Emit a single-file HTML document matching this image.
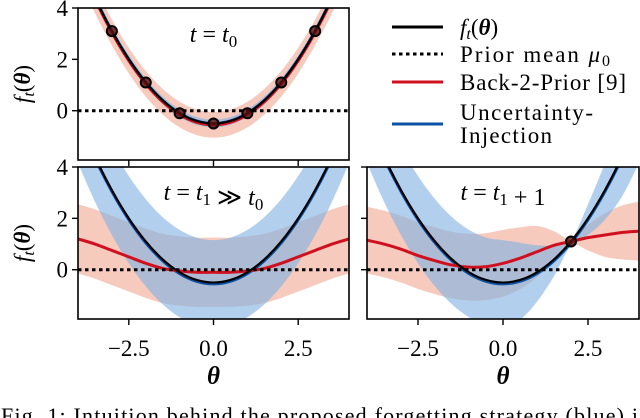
<!DOCTYPE html>
<html><head><meta charset="utf-8"><style>
html,body{margin:0;padding:0;background:#fff;overflow:hidden}
svg{display:block}
text{font-family:"Liberation Serif",serif;fill:#000}
</style></head><body>
<svg id="c" width="640" height="418" viewBox="0 0 640 418" xmlns="http://www.w3.org/2000/svg"></svg>
<script>
const thetaGrid=[-4,-3.5,-3,-2.5,-2,-1.5,-1,-0.5,0,0.5,1,1.5,2,2.5,3,3.5,4];
const trueF=[5.9,4.4,3.1,2.0,1.1,0.4,-0.1,-0.4,-0.5,-0.4,-0.1,0.4,1.1,2.0,3.1,4.4,5.9];
const yTicks=[0,2,4];
const xTicks=[-2.5,0,2.5];
const xTickLabels=["\u22122.5","0.0","2.5"];
// top panel
const topRedMean=[5.85,4.35,3.05,1.95,1.05,0.35,-0.15,-0.45,-0.55,-0.45,-0.15,0.35,1.05,1.95,3.05,4.35,5.85];
const topRedStd=[0.55,0.55,0.5,0.5,0.5,0.5,0.5,0.5,0.5,0.5,0.5,0.5,0.5,0.5,0.5,0.55,0.55];
const topBlueMean=[5.9,4.4,3.1,2.0,1.1,0.4,-0.1,-0.4,-0.5,-0.4,-0.1,0.4,1.1,2.0,3.1,4.4,5.9];
const topBlueStd=[0.2,0.18,0.15,0.15,0.15,0.15,0.15,0.15,0.15,0.15,0.15,0.15,0.15,0.15,0.15,0.18,0.2];
const topObsX=[-3,-2,-1,0,1,2,3];
const topObsY=[3.1,1.1,-0.1,-0.5,-0.1,1.1,3.1];
// bottom-left panel
const blRedMean=[1.2,1.0,0.75,0.5,0.25,0.05,-0.05,-0.1,-0.1,-0.1,-0.05,0.05,0.25,0.5,0.75,1.0,1.2];
const blRedStd=[1.35,1.35,1.35,1.35,1.35,1.35,1.35,1.35,1.35,1.35,1.35,1.35,1.35,1.35,1.35,1.35,1.35];
const blBlueMean=[5.85,4.35,3.05,1.95,1.05,0.35,-0.15,-0.45,-0.55,-0.45,-0.15,0.35,1.05,1.95,3.05,4.35,5.85];
const blBlueStd=[1.7,1.7,1.7,1.7,1.7,1.7,1.7,1.7,1.7,1.7,1.7,1.7,1.7,1.7,1.7,1.7,1.7];
// bottom-right panel
const brRedMean=[1.15,1.0,0.8,0.55,0.35,0.18,0.1,0.12,0.25,0.45,0.7,0.95,1.1,1.25,1.35,1.45,1.5];
const brRedStd=[1.3,1.3,1.3,1.3,1.3,1.3,1.3,1.3,1.3,1.2,1.0,0.55,0.1,0.5,0.85,1.05,1.15];
const brBlueMean=[5.85,4.35,3.05,1.95,1.05,0.35,-0.15,-0.45,-0.55,-0.45,-0.15,0.35,1.05,1.95,3.05,4.35,5.85];
const brBlueStd=[1.7,1.7,1.7,1.7,1.7,1.7,1.7,1.7,1.7,1.5,1.1,0.6,0.1,0.6,1.1,1.5,1.7];
const brObsX=[2];
const brObsY=[1.1];

const NS="http://www.w3.org/2000/svg";
const svg=document.getElementById('c');
function mk(tag,attrs,parent){const e=document.createElementNS(NS,tag);for(const k in attrs)e.setAttribute(k,attrs[k]);(parent||svg).appendChild(e);return e;}
const RED="#d0101f",BLUE="#0a52a5";
let clipId=0;
function panel(name,x0,x1,y0,y1,opts){
  const g=mk('g',{});
  
  
  const xMin=-4,xMax=4,yMin=-1.92,yMax=4;
  const sx=v=>x0+(v-xMin)/(xMax-xMin)*(x1-x0);
  const sy=v=>y1-(v-yMin)/(yMax-yMin)*(y1-y0);
  const cid='clip'+(clipId++);
  const cp=mk('clipPath',{id:cid},g);mk('rect',{x:x0,y:y0,width:x1-x0,height:y1-y0},cp);
  const pg=mk('g',{'clip-path':'url(#'+cid+')'},g);
  function smooth(pts){let d='M'+pts[0][0]+','+pts[0][1];
    for(let i=0;i<pts.length-1;i++){const p0=pts[i-1]||pts[i],p1=pts[i],p2=pts[i+1],p3=pts[i+2]||p2;
      const c1=[p1[0]+(p2[0]-p0[0])/6,p1[1]+(p2[1]-p0[1])/6],c2=[p2[0]-(p3[0]-p1[0])/6,p2[1]-(p3[1]-p1[1])/6];
      d+='C'+c1[0].toFixed(2)+','+c1[1].toFixed(2)+' '+c2[0].toFixed(2)+','+c2[1].toFixed(2)+' '+p2[0].toFixed(2)+','+p2[1].toFixed(2);}
    return d;}
  function band(mean,std,fill,op,nm){
    const up=thetaGrid.map((t,i)=>[sx(t),sy(mean[i]+std[i])]);
    const lo=thetaGrid.map((t,i)=>[sx(t),sy(mean[i]-std[i])]).reverse();
    let d=smooth(up)+'L'+lo[0][0]+','+lo[0][1]+smooth(lo).slice(1).replace(/^[^C]*/,'')+'Z';
    const p=mk('path',{d:d,fill:fill,'fill-opacity':op,stroke:'none'},pg);
    
    }
  function line(vals,col,w,nm){
    const p=mk('path',{d:smooth(thetaGrid.map((t,i)=>[sx(t),sy(vals[i])])),fill:'none',stroke:col,'stroke-width':w},pg);
    
    }
  band(opts.rm,opts.rs,'#ef9f86',0.55,'back2prior-band');
  band(opts.bm,opts.bs,'#7fb1e3',0.6,'uncertainty-band');
  line(opts.bm,BLUE,3,'uncertainty-mean-line');
  line(opts.rm,RED,3,'back2prior-mean-line');
  line(trueF,'#000',2.2,'true-function-line');
  const pr=mk('line',{x1:x0,x2:x1,y1:sy(0),y2:sy(0),stroke:'#000','stroke-width':3,'stroke-dasharray':'3.5 3.5'},pg);
  
  
  (opts.ox||[]).forEach((ox,i)=>{
    const c=mk('circle',{cx:sx(ox),cy:sy(opts.oy[i]),r:5,fill:'#5a1010','fill-opacity':0.8,stroke:'#000','stroke-width':2},pg);
    
    });
  const fr=mk('rect',{x:x0,y:y0,width:x1-x0,height:y1-y0,fill:'none',stroke:'#000','stroke-width':1.6},g);
  
  
  xTicks.forEach((t,i)=>{
    const tk=mk('line',{x1:sx(t),x2:sx(t),y1:y1,y2:y1+6,stroke:'#000','stroke-width':1.4},g);
    
    
    if(opts.xlabels){const tx=mk('text',{x:sx(t),y:y1+37,'font-size':23,'text-anchor':'middle'},g);tx.textContent=xTickLabels[i];
      
      }});
  yTicks.forEach(t=>{
    const yy=sy(t);if(yy<y0-1)return;
    const tk=mk('line',{x1:x0-6,x2:x0,y1:yy,y2:yy,stroke:'#000','stroke-width':1.4},g);
    
    
    if(opts.ylabels){const tx=mk('text',{x:x0-10,y:yy+8,'font-size':23,'text-anchor':'end'},g);tx.textContent=String(t);
      
      }});
  if(opts.ylabels){const yl=mk('text',{transform:'translate(30,'+((y0+y1)/2)+') rotate(-90)','font-size':23,'text-anchor':'middle','font-style':'italic'},g);
    yl.innerHTML='f<tspan font-size="16" dy="4">t</tspan><tspan dy="-4" font-style="normal">(</tspan><tspan font-weight="bold">θ</tspan><tspan font-style="normal">)</tspan>';
    
    }
  if(opts.xlabels){const xl=mk('text',{x:sx(0),y:y1+65,'font-size':25,'text-anchor':'middle','font-style':'italic','font-weight':'bold'},g);xl.textContent='θ';
    
    }
  const tt=mk('text',{x:sx(0),y:opts.ty,'font-size':24,'text-anchor':'middle'},g);
  tt.innerHTML=opts.title;
  
  
}
const I=s=>'<tspan font-style="italic">'+s+'</tspan>';
const S=s=>'<tspan font-size="17" dy="5">'+s+'</tspan><tspan dy="-5"></tspan>';
panel('top-panel',78,349,8,160,{rm:topRedMean,rs:topRedStd,bm:topBlueMean,bs:topBlueStd,ox:topObsX,oy:topObsY,ylabels:true,xlabels:false,ty:42,title:I('t')+' = '+I('t')+S('0')});
panel('bottom-left-panel',78,349,167,319,{rm:blRedMean,rs:blRedStd,bm:blBlueMean,bs:blBlueStd,ylabels:true,xlabels:true,ty:200,title:I('t')+' = '+I('t')+S('1')+' ≫ '+I('t')+S('0')});
panel('bottom-right-panel',367,639,167,319,{rm:brRedMean,rs:brRedStd,bm:brBlueMean,bs:brBlueStd,ox:brObsX,oy:brObsY,ylabels:false,xlabels:true,ty:200,title:I('t')+' = '+I('t')+S('1')+' + 1'});
// legend
const lg=mk('g',{});


const legY=[27,54,82,124];
const legHtml=['<tspan font-style="italic">f</tspan><tspan font-size="16" dy="4" font-style="italic">t</tspan><tspan dy="-4">(</tspan><tspan font-weight="bold" font-style="italic">θ</tspan>)','Prior mean <tspan font-style="italic">μ</tspan><tspan font-size="16" dy="4">0</tspan>','Back-2-Prior [9]',null];
const legW=[null,150,166,null];
const legStyle=[['#000',''],['#000','3.5 3.5'],[RED,''],[BLUE,'']];
legY.forEach((y,i)=>{
  const l=mk('line',{x1:392,x2:443,y1:y,y2:y,stroke:legStyle[i][0],'stroke-width':3,'stroke-dasharray':legStyle[i][1]},lg);
  
  
  if(legHtml[i]){const t=mk('text',{x:460,y:y+8,'font-size':23},lg);t.innerHTML=legHtml[i];
    if(legW[i]){t.setAttribute('textLength',legW[i]);}
    
    }
});
const ul=mk('text',{x:460,y:120,'font-size':23},lg);ul.innerHTML='<tspan textLength="133">Uncertainty-</tspan><tspan x="460" dy="23" textLength="92">Injection</tspan>';


const cap=mk('text',{x:1,y:423,'font-size':22,textLength:637,lengthAdjust:'spacing'},svg);
cap.textContent='Fig. 1: Intuition behind the proposed forgetting strategy (blue) i';


</script>
</body></html>
